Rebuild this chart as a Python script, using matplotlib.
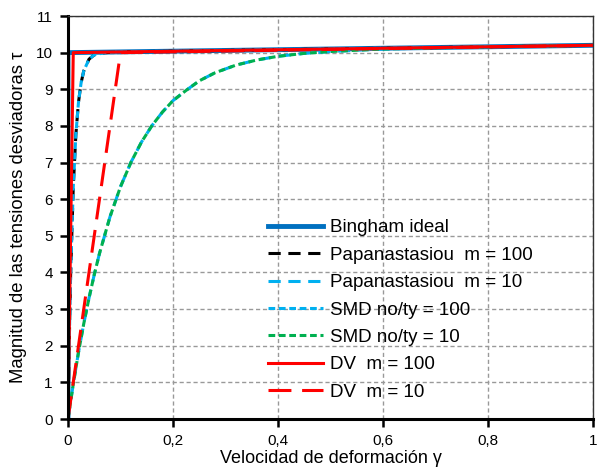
import matplotlib
matplotlib.use("Agg")
import matplotlib.pyplot as plt

plt.rcParams['font.family'] = ['Liberation Sans', 'DejaVu Sans']

# shear rate / stress values
gamma_bingham = [0, 0, 1.0]
tau_bingham = [0, 10.0, 10.2]

gamma_m100 = [0, 0.002, 0.005, 0.01, 0.015, 0.02, 0.025, 0.03, 0.04, 0.05,
              0.07, 0.1, 0.2, 0.4, 0.6, 0.8, 1.0]
tau_papa_m100 = [0, 1.81, 3.93, 6.32, 7.77, 8.65, 9.18, 9.50, 9.82, 9.94,
                 10.00, 10.02, 10.04, 10.08, 10.12, 10.16, 10.20]
tau_smd_100 = [0, 1.81, 3.93, 6.32, 7.77, 8.65, 9.18, 9.50, 9.82, 9.94,
               10.00, 10.02, 10.04, 10.08, 10.12, 10.16, 10.20]

gamma_m10 = [0, 0.01, 0.02, 0.03, 0.04, 0.05, 0.06, 0.08, 0.10, 0.12, 0.14,
             0.16, 0.18, 0.2, 0.225, 0.25, 0.28, 0.32, 0.36, 0.4, 0.45, 0.5,
             0.6, 0.8, 1.0]
tau_papa_m10 = [0, 0.95, 1.82, 2.60, 3.30, 3.94, 4.52, 5.52, 6.34, 7.01, 7.56,
                8.01, 8.38, 8.69, 8.97, 9.23, 9.45, 9.66, 9.80, 9.90, 9.98, 10.03,
                10.10, 10.16, 10.20]
tau_smd_10 = [0, 0.95, 1.82, 2.60, 3.30, 3.94, 4.52, 5.52, 6.34, 7.01, 7.56,
              8.01, 8.38, 8.69, 8.97, 9.23, 9.45, 9.66, 9.80, 9.90, 9.98, 10.03,
              10.10, 10.16, 10.20]

gamma_dv100 = [0, 0.01, 1.0]
tau_dv100 = [0, 10.0, 10.2]
gamma_dv10 = [0, 0.1, 1.0]
tau_dv10 = [0, 10.0, 10.2]

x_ticks = [0, 0.2, 0.4, 0.6, 0.8, 1.0]
x_tick_labels = ["0", "0,2", "0,4", "0,6", "0,8", "1"]

fig = plt.figure(figsize=(6.02, 4.69), dpi=100)
ax = fig.add_axes([68 / 602, 50 / 469, 525 / 602, 403 / 469])

ax.plot(gamma_bingham, tau_bingham, color="#0070C0", lw=3.5, label="Bingham ideal")
ax.plot(gamma_m100, tau_papa_m100, color="black", lw=2.2, dashes=(4, 2.5),
        label="Papanastasiou  m = 100")
ax.plot(gamma_m10, tau_papa_m10, color="#00B0F0", lw=2.2, dashes=(4, 2.5),
        label="Papanastasiou  m = 10")
ax.plot(gamma_m100, tau_smd_100, color="#00B0F0", lw=2.2, dashes=(2.2, 1.2),
        label="SMD no/ty = 100")
ax.plot(gamma_m10, tau_smd_10, color="#00B050", lw=2.2, dashes=(2.2, 1.2),
        label="SMD no/ty = 10")
ax.plot(gamma_dv100, tau_dv100, color="#FF0000", lw=2.2, label="DV  m = 100")
ax.plot(gamma_dv10, tau_dv10, color="#FF0000", lw=2.2, dashes=(7.5, 3.5),
        label="DV  m = 10")

ax.set_xlim(0, 1)
ax.set_ylim(0, 11)
ax.set_xticks(x_ticks)
ax.set_xticklabels(x_tick_labels)
ax.set_yticks(range(0, 12))
ax.grid(True, color="#999999", linestyle=(0, (3, 2)), lw=1)
ax.set_axisbelow(True)

for side in ["left", "bottom"]:
    ax.spines[side].set_linewidth(2.2)
for side in ["top", "right"]:
    ax.spines[side].set_linewidth(1.0)
    ax.spines[side].set_color("#333333")
ax.tick_params(direction="out", length=6, width=1.8, labelsize=11, pad=5)
ax.tick_params(axis="x", pad=5)

ax.set_xlabel("Velocidad de deformación γ", fontsize=13, labelpad=1)
ax.set_ylabel("Magnitud de las tensiones desviadoras τ", fontsize=13.3, labelpad=6)

ax.legend(loc="upper left", bbox_to_anchor=(0.381, 0.496), frameon=False,
          fontsize=13.5, handlelength=2.93, handletextpad=0.37, labelspacing=0.55,
          borderpad=0, borderaxespad=0)

fig.savefig("out.png", dpi=100)
